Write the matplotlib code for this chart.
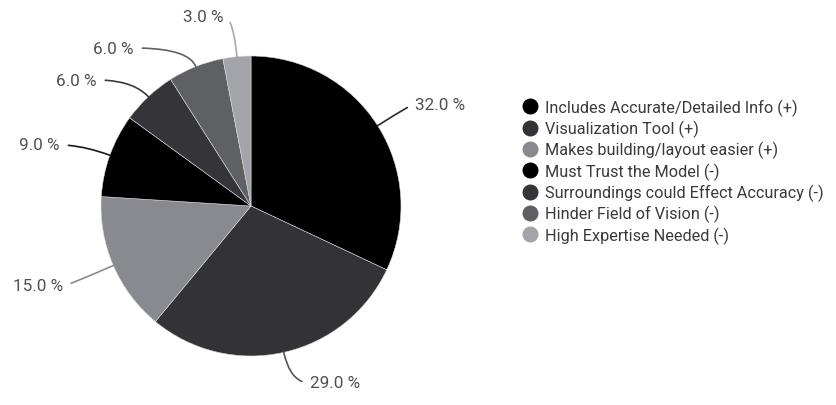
import numpy as np
import matplotlib.pyplot as plt
from matplotlib.lines import Line2D

categories = [
    "Includes Accurate/Detailed Info (+)",
    "Visualization Tool (+)",
    "Makes building/layout easier (+)",
    "Must Trust the Model (-)",
    "Surroundings could Effect Accuracy (-)",
    "Hinder Field of Vision (-)",
    "High Expertise Needed (-)",
]
shares = [32.0, 29.0, 15.0, 9.0, 6.0, 6.0, 3.0]
colors = ["#000000", "#333337", "#898a8f", "#000000", "#353539", "#5f6064", "#a3a4aa"]
line_colors = ["#2a2a2a", "#555558", "#8a8b90", "#1a1a1a", "#3a3a3e", "#606165", "#a8a9ae"]

W, H = 837, 406
CENTER = (251, H - 207)
RADIUS = 150
# label anchors in pixel coords (x, y from top, alignment)
label_pos = [
    (415, 105, "left"),
    (310, 384, "left"),
    (63, 287, "right"),
    (60, 146, "right"),
    (97, 81, "right"),
    (134, 49, "right"),
    (224, 18, "right"),
]

plt.rcParams["font.family"] = ["Roboto", "DejaVu Sans"]

fig = plt.figure(figsize=(W / 100, H / 100), dpi=100)
ax = fig.add_axes([0, 0, 1, 1])

wedges, _ = ax.pie(
    shares,
    colors=colors,
    startangle=90,
    counterclock=False,
    center=CENTER,
    radius=RADIUS,
    wedgeprops=dict(edgecolor="#d8d8dc", linewidth=0.4),
)

for w, val, (lx, ly, ha), lc in zip(wedges, shares, label_pos, line_colors):
    mid = np.deg2rad((w.theta1 + w.theta2) / 2)
    px = CENTER[0] + RADIUS * np.cos(mid)
    py = CENTER[1] + RADIUS * np.sin(mid)
    relx = 0 if ha == "left" else 1
    ax.annotate(
        f"{val:.1f} %",
        xy=(px, py),
        xytext=(lx, H - ly),
        ha=ha, va="center",
        fontsize=12.3, color="#505050",
        arrowprops=dict(
            arrowstyle="-", color=lc, lw=1.2,
            shrinkA=4, shrinkB=0, relpos=(relx, 0.5),
            connectionstyle=f"angle3,angleA=0,angleB={np.rad2deg(mid):.1f}",
        ),
    )

handles = [
    Line2D([], [], marker="o", linestyle="none", markersize=10.5,
           markerfacecolor=c, markeredgecolor=c)
    for c in colors
]
leg = ax.legend(
    handles, categories,
    loc="upper left", bbox_to_anchor=(515 / W, 1 - 93 / H),
    frameon=False, fontsize=11.7, labelcolor="#3a3a3a",
    handletextpad=0.45, labelspacing=0.25, handlelength=1.0, borderaxespad=0,
)

ax.set_xlim(0, W)
ax.set_ylim(0, H)
ax.set_aspect("equal")
ax.axis("off")

fig.savefig("out.png", dpi=100)
